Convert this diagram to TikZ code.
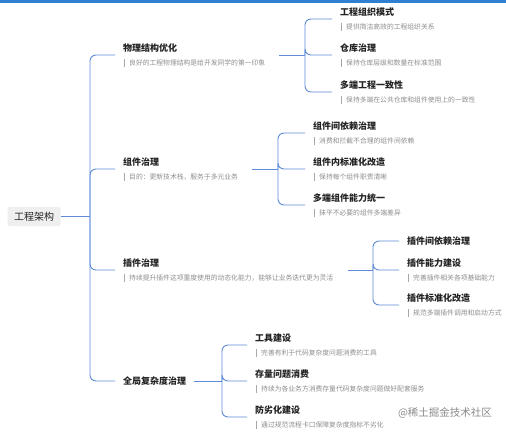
\documentclass[tikz,border=0pt]{standalone}
\usepackage{fontspec}
\setmainfont{Noto Sans CJK SC}
\definecolor{linkblue}{HTML}{5E8CD8}
\definecolor{titlec}{HTML}{222222}
\definecolor{descc}{HTML}{8E8E8E}
\definecolor{barc}{HTML}{A8A8A8}
\definecolor{rootfill}{HTML}{EFEFEF}
\definecolor{topbarc}{HTML}{2F80D2}
\definecolor{wmc}{HTML}{8A8A8A}
\tikzset{
  conn/.style={draw=linkblue, line width=0.9pt, rounded corners=6pt},
  ttl/.style={anchor=west, inner sep=0pt, font=\fontsize{9}{10}\selectfont\bfseries, text=titlec},
  dsc/.style={anchor=west, inner sep=0pt, font=\fontsize{6.8}{8}\selectfont, text=descc},
  descbar/.style={draw=barc, line width=0.8pt},
  rootbox/.style={fill=rootfill, rounded corners=2pt, minimum width=53pt, minimum height=19pt, inner sep=0pt, font=\fontsize{10}{12}\selectfont, text=titlec},
  wm/.style={anchor=center, inner sep=0pt, font=\fontsize{10.5}{12}\selectfont, text=wmc}
}
% name, x, title y, title, desc
\newcommand\mmblk[5]{%
  \node[ttl] (#1) at (#2,#3) {#4};
  \node[dsc] (#1d) at (#2+6,#3+14.5) {#5};
  \draw[descbar] (#2+1,#3+10.5) -- (#2+1,#3+18.5);
}
\begin{document}
\begin{tikzpicture}[x=1pt,y=-1pt]
\useasboundingbox (0,0) rectangle (506,432);
\fill[white] (0,0) rectangle (506,432);
\fill[topbarc] (0,0) rectangle (506,3);

% root
\node[rootbox] (R) at (34,216.5) {工程架构};
\coordinate (Rj) at (90,216.5);
\draw[conn] (R.east) -- (Rj);

% level 1
\mmblk{A}{123}{48}{物理结构优化}{良好的工程物理结构是给开发同学的第一印象}
\mmblk{B}{123}{162}{组件治理}{目的：更新技术栈，服务于多元业务}
\mmblk{C}{123}{263}{插件治理}{持续提升插件这项重度使用的动态化能力，能够让业务迭代更为灵活}
\node[ttl] (D) at (123,381) {全局复杂度治理};

\coordinate (Ain) at (115,55);
\coordinate (Bin) at (115,169);
\coordinate (Cin) at (115,270);
\coordinate (Din) at (115,381);
\draw[conn] (Rj) |- (Ain);
\draw[conn] (Rj) |- (Bin);
\draw[conn] (Rj) |- (Cin);
\draw[conn] (Rj) |- (Din);

% junctions
\coordinate (Aj) at (305,55);
\coordinate (Bj) at (278,169);
\coordinate (Cj) at (373,270);
\coordinate (Dj) at (222,381);
\draw[conn] ([xshift=14pt]Ad.east |- Aj) -- (Aj);
\draw[conn] ([xshift=14pt]Bd.east |- Bj) -- (Bj);
\draw[conn] ([xshift=15pt]Cd.east |- Cj) -- (Cj);
\draw[conn] ([xshift=8pt]D.east |- Dj) -- (Dj);

% level 2 under A
\mmblk{A1}{340}{12}{工程组织模式}{提供简洁高效的工程组织关系}
\mmblk{A2}{340}{48}{仓库治理}{保持仓库层级和数量在标准范围}
\mmblk{A3}{340}{85}{多端工程一致性}{保持多端在公共仓库和组件使用上的一致性}
\coordinate (A1in) at (332,19);
\coordinate (A2in) at (332,55);
\coordinate (A3in) at (332,92);
\draw[conn] (Aj) |- (A1in);
\draw[conn] (Aj) |- (A2in);
\draw[conn] (Aj) |- (A3in);

% level 2 under B
\mmblk{B1}{313}{126}{组件间依赖治理}{消费和拦截不合理的组件间依赖}
\mmblk{B2}{313}{162}{组件内标准化改造}{保持每个组件职责清晰}
\mmblk{B3}{313}{198}{多端组件能力统一}{抹平不必要的组件多端差异}
\coordinate (B1in) at (305,133);
\coordinate (B2in) at (305,169);
\coordinate (B3in) at (305,205);
\draw[conn] (Bj) |- (B1in);
\draw[conn] (Bj) |- (B2in);
\draw[conn] (Bj) |- (B3in);

% level 2 under C
\node[ttl] (C1) at (407,241) {插件间依赖治理};
\mmblk{C2}{407}{263}{插件能力建设}{完善插件相关各项基础能力}
\mmblk{C3}{407}{298}{插件标准化改造}{规范多端插件调用和启动方式}
\coordinate (C1in) at (399,241);
\coordinate (C2in) at (399,270);
\coordinate (C3in) at (399,305);
\draw[conn] (Cj) |- (C1in);
\draw[conn] (Cj) |- (C2in);
\draw[conn] (Cj) |- (C3in);

% level 2 under D
\mmblk{D1}{255}{338}{工具建设}{完善有利于代码复杂度问题消费的工具}
\mmblk{D2}{255}{374}{存量问题消费}{持续为各业务方消费存量代码复杂度问题做好配套服务}
\mmblk{D3}{255}{410}{防劣化建设}{通过规范流程卡口保障复杂度指标不劣化}
\coordinate (D1in) at (247,345);
\coordinate (D2in) at (247,381);
\coordinate (D3in) at (247,417);
\draw[conn] (Dj) |- (D1in);
\draw[conn] (Dj) |- (D2in);
\draw[conn] (Dj) |- (D3in);

% watermark
\node[wm] (W) at (445,413) {@稀土掘金技术社区};
\end{tikzpicture}
\end{document}
